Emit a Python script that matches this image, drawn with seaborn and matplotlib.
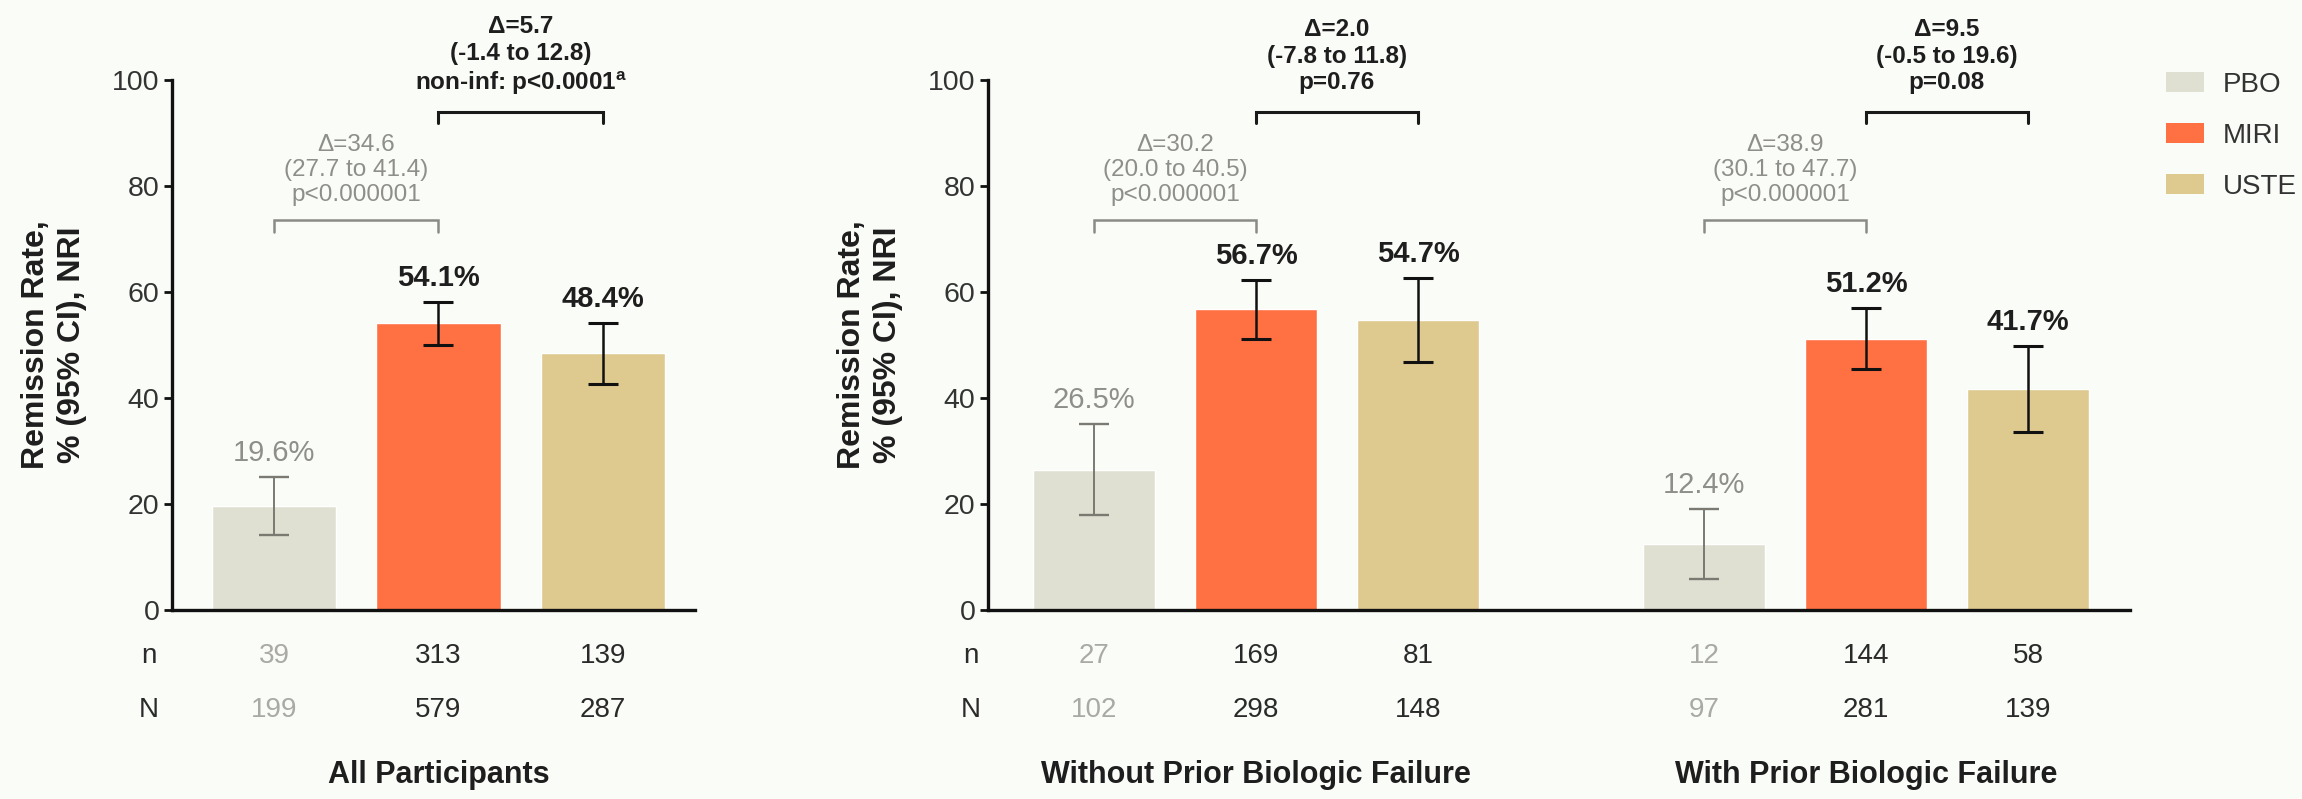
import numpy as np
import pandas as pd
import matplotlib
matplotlib.use("Agg")
import matplotlib.pyplot as plt
import matplotlib.transforms as mtransforms
from matplotlib.patches import Patch
import seaborn as sns

# ---------------- data ----------------
groups = ["All Participants", "Without Prior Biologic Failure", "With Prior Biologic Failure"]
treatments = ["PBO", "MIRI", "USTE"]

pbo_rate = [19.6, 26.5, 12.4]
miri_rate = [54.1, 56.7, 51.2]
uste_rate = [48.4, 54.7, 41.7]

pbo_ci_low = [14.1, 17.9, 5.9]
pbo_ci_high = [25.1, 35.1, 19.0]
miri_ci_low = [50.0, 51.1, 45.4]
miri_ci_high = [58.2, 62.3, 57.0]
uste_ci_low = [42.6, 46.7, 33.5]
uste_ci_high = [54.2, 62.7, 49.9]

pbo_n = [39, 27, 12]
pbo_N = [199, 102, 97]
miri_n = [313, 169, 144]
miri_N = [579, 298, 281]
uste_n = [139, 81, 58]
uste_N = [287, 148, 139]

pbo_delta = ["34.6", "30.2", "38.9"]
pbo_delta_ci = ["27.7 to 41.4", "20.0 to 40.5", "30.1 to 47.7"]
pbo_p = ["p<0.000001", "p<0.000001", "p<0.000001"]
uste_delta = ["5.7", "2.0", "9.5"]
uste_delta_ci = ["-1.4 to 12.8", "-7.8 to 11.8", "-0.5 to 19.6"]
uste_p = ["non-inf: p<0.0001$^{\\mathbf{a}}$", "p=0.76", "p=0.08"]

# ---------------- styling ----------------
sns.set_theme(style="white")
plt.rcParams["font.family"] = ["Liberation Sans", "DejaVu Sans"]
plt.rcParams["mathtext.fontset"] = "custom"
plt.rcParams["mathtext.rm"] = "Liberation Sans"
plt.rcParams["mathtext.bf"] = "Liberation Sans:bold"

BG = "#FAFCF7"
colors = {"PBO": "#E0E0D2", "MIRI": "#FF7043", "USTE": "#DEC98F"}
GRAY_TXT = "#8E8E8A"
LIGHT_TXT = "#A9A9A6"
DARK = "#1E1E1E"

rows = []
for gi, g in enumerate(groups):
    for ti, t in enumerate(treatments):
        rate = {"PBO": pbo_rate, "MIRI": miri_rate, "USTE": uste_rate}[t][gi]
        lo = {"PBO": pbo_ci_low, "MIRI": miri_ci_low, "USTE": uste_ci_low}[t][gi]
        hi = {"PBO": pbo_ci_high, "MIRI": miri_ci_high, "USTE": uste_ci_high}[t][gi]
        n = {"PBO": pbo_n, "MIRI": miri_n, "USTE": uste_n}[t][gi]
        N = {"PBO": pbo_N, "MIRI": miri_N, "USTE": uste_N}[t][gi]
        rows.append(dict(group=g, gi=gi, treatment=t, ti=ti, rate=rate, lo=lo, hi=hi, n=n, N=N))
df = pd.DataFrame(rows)

W, H = 2302, 799
fig = plt.figure(figsize=(W / 100, H / 100), dpi=100, facecolor=BG)

ax_bottom, ax_top = 610, 80
ax1 = fig.add_axes([172 / W, 1 - ax_bottom / H, (695 - 172) / W, (ax_bottom - ax_top) / H])
ax2 = fig.add_axes([988 / W, 1 - ax_bottom / H, (2130 - 988) / W, (ax_bottom - ax_top) / H])

GROUP_STEP = 3.765
panels = [(ax1, [0], (-0.62, 2.56)), (ax2, [1, 2], (-0.654, 6.395))]

for ax, gids, xlim in panels:
    ax.set_facecolor(BG)
    sub = df[df.gi.isin(gids)].copy()
    slot = sub.gi.map({g: k for k, g in enumerate(gids)})
    sub["pos"] = sub.ti + slot * GROUP_STEP
    sns.barplot(data=sub, x="pos", y="rate", hue="treatment", hue_order=treatments,
                palette=colors, native_scale=True, width=0.755, dodge=False,
                errorbar=None, legend=False, saturation=1, ax=ax, zorder=2)
    # error bars
    for t in treatments:
        s = sub[sub.treatment == t]
        ec = "#7A7A72" if t == "PBO" else "#111111"
        ax.errorbar(s.pos, s.rate, yerr=[s.rate - s.lo, s.hi - s.rate], fmt="none",
                    ecolor=ec, elinewidth=1.8 if t != "PBO" else 1.4,
                    capsize=10.5, capthick=2.2 if t != "PBO" else 1.7, zorder=3)
    # value labels
    for _, r in sub.iterrows():
        if r.treatment == "PBO":
            ax.text(r.pos, r.hi + 4.5, f"{r.rate:.1f}%", ha="center", va="center",
                    fontsize=21, color=GRAY_TXT)
        else:
            ax.text(r.pos, r.hi + 4.5, f"{r.rate:.1f}%", ha="center", va="center",
                    fontsize=21, color=DARK, fontweight="bold")
    # brackets and annotations
    for k, g in enumerate(gids):
        gp = sub[sub.gi == g].set_index("treatment").pos
        x0, x1, x2 = gp["PBO"], gp["MIRI"], gp["USTE"]
        yb = 73.5
        ax.plot([x0, x0, x1, x1], [yb - 2.2, yb, yb, yb - 2.2], color="#8A8A86", lw=1.8,
                clip_on=False, solid_joinstyle="miter")
        ax.text((x0 + x1) / 2, 83.0,
                f"Δ={pbo_delta[g]}\n({pbo_delta_ci[g]})\n{pbo_p[g]}",
                ha="center", va="center", fontsize=17.5, color=GRAY_TXT, linespacing=1.2,
                clip_on=False)
        yb2 = 94.0
        ax.plot([x1, x1, x2, x2], [yb2 - 2.2, yb2, yb2, yb2 - 2.2], color="#1A1A1A", lw=2.2,
                clip_on=False, solid_joinstyle="miter")
        ax.text((x1 + x2) / 2, 104.5,
                f"Δ={uste_delta[g]}\n({uste_delta_ci[g]})\n{uste_p[g]}",
                ha="center", va="center", fontsize=17.5, color=DARK, fontweight="bold",
                linespacing=1.2, clip_on=False)
        # n / N rows
        trans = mtransforms.blended_transform_factory(ax.transData, fig.transFigure)
        for _, r in sub[sub.gi == g].iterrows():
            c = LIGHT_TXT if r.treatment == "PBO" else "#2A2A2A"
            ax.text(r.pos, 1 - 656 / H, f"{r.n}", ha="center", va="center", fontsize=20,
                    color=c, transform=trans)
            ax.text(r.pos, 1 - 710 / H, f"{r.N}", ha="center", va="center", fontsize=20,
                    color=c, transform=trans)
        # group title
        ax.text(x1, 1 - 775 / H, groups[g], ha="center", va="center", fontsize=22,
                fontweight="bold", color=DARK, transform=trans)
    trans = mtransforms.blended_transform_factory(ax.transData, fig.transFigure)
    ax.text(-0.76, 1 - 656 / H, "n", ha="center", va="center", fontsize=20, color="#2A2A2A",
            transform=trans)
    ax.text(-0.76, 1 - 710 / H, "N", ha="center", va="center", fontsize=20, color="#2A2A2A",
            transform=trans)

    ax.set_xlim(*xlim)
    ax.set_ylim(0, 100)
    ax.set_yticks([0, 20, 40, 60, 80, 100])
    ax.set_xticks([])
    ax.set_xlabel("")
    ax.set_ylabel("Remission Rate,\n% (95% CI), NRI", fontsize=23, fontweight="bold",
                  color=DARK, linespacing=1.3)
    ax.yaxis.label.set_verticalalignment("center")
    for sp in ["top", "right"]:
        ax.spines[sp].set_visible(False)
    for sp in ["left", "bottom"]:
        ax.spines[sp].set_color("#111111")
        ax.spines[sp].set_linewidth(2.4)
    ax.tick_params(axis="y", which="major", direction="out", length=6, width=2.0,
                   color="#111111", labelsize=20.5, labelcolor="#333333", pad=3, left=True)

ax1.yaxis.set_label_coords((54 - 172) / (695 - 172), 0.5)
ax2.yaxis.set_label_coords((870 - 988) / (2130 - 988), 0.5)

handles = [Patch(facecolor=colors[t], edgecolor="none", label=t) for t in treatments]
fig.legend(handles=handles, loc="upper left", bbox_to_anchor=(2166 / W, 1 - 72 / H),
           frameon=False, fontsize=20, handlelength=1.35, handleheight=0.75,
           handletextpad=0.7, labelspacing=0.9, borderpad=0, borderaxespad=0,
           labelcolor="#333333")

fig.savefig("out.png", dpi=100, facecolor=BG)
